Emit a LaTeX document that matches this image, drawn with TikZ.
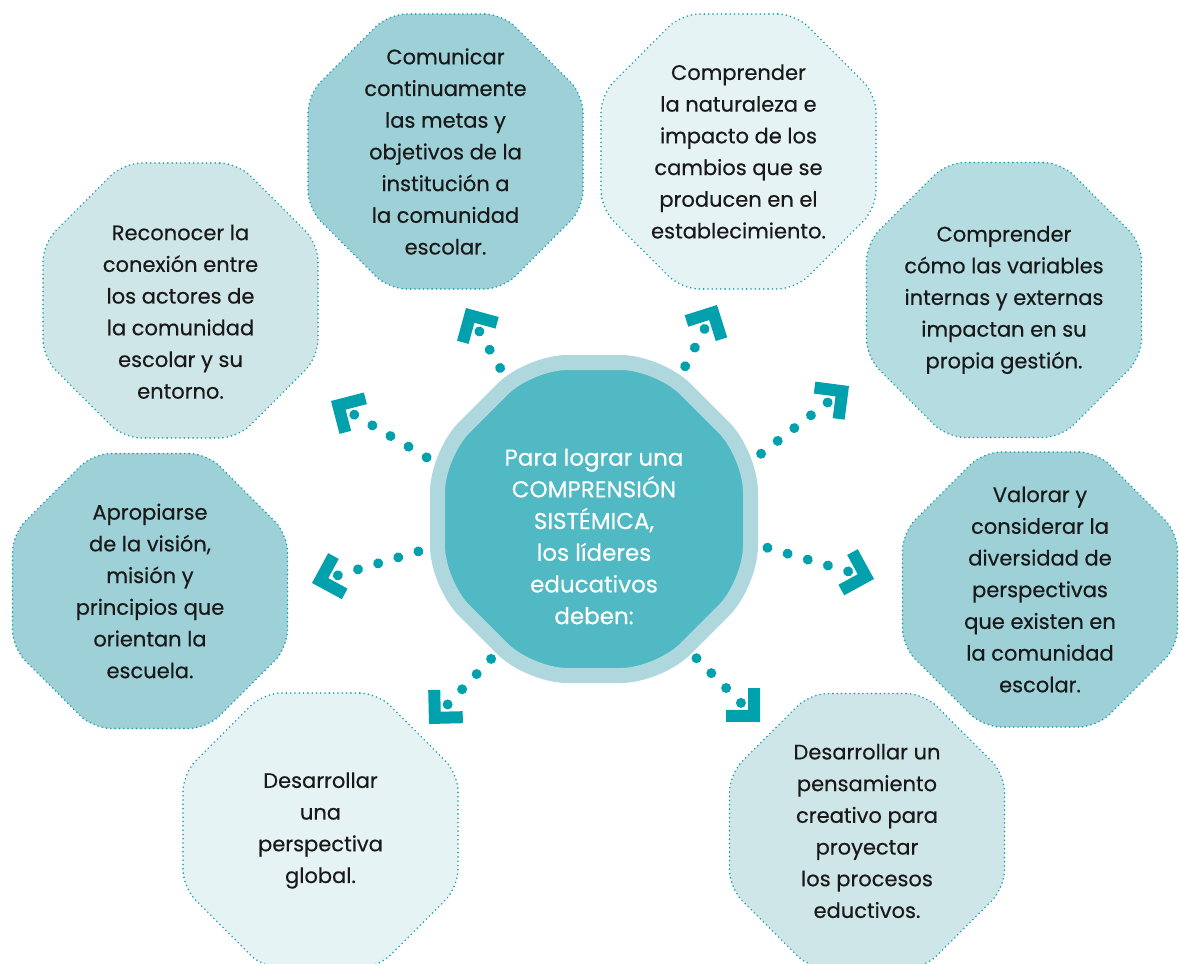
\documentclass[tikz,border=0pt]{standalone}
\usepackage{fontspec}
\setmainfont{Poppins}
\newfontfamily\boxfont{Poppins}[FakeBold=0.4]
\usepackage{xcolor}
\usepackage{tikz}
\usetikzlibrary{shapes.geometric,decorations.markings}
\definecolor{DotTeal}{HTML}{00A1AD}
\definecolor{EdgeTeal}{HTML}{1DA0AE}
\definecolor{HubFill}{HTML}{50B9C3}
\definecolor{HubRing}{HTML}{AED8DE}
\definecolor{FillA}{HTML}{9DD0D7}
\definecolor{FillB}{HTML}{B5DCE0}
\definecolor{FillC}{HTML}{CFE6E9}
\definecolor{FillD}{HTML}{E6F3F4}
\tikzset{
    octbox/.style={regular polygon, regular polygon sides=8, minimum size=297.7pt, inner sep=-30pt,
        draw=EdgeTeal, line width=1.8pt, dash pattern=on 0pt off 4.3pt, line cap=round,
        rounded corners=18pt, align=center, text=black!90,
        font=\boxfont\fontsize{21}{31.7}\selectfont},
    hub/.style={regular polygon, regular polygon sides=8, minimum size=338.8pt, inner sep=-20pt,
        fill=HubFill, draw=HubRing, line width=15pt, rounded corners=38pt,
        align=center, text=white, font=\boxfont\fontsize{23}{31.7}\selectfont}
}

\begin{document}
\begin{tikzpicture}[
                x=1pt, y=-1pt,
                link/.style={
                    decoration={markings,
                        mark=at position 0 with {\fill[DotTeal] (0pt,0pt) -- (24pt,24pt) -- (32.5pt,15.5pt)
                            -- (17pt,0pt) -- (32.5pt,-15.5pt) -- (24pt,-24pt) -- cycle;},
                        mark=between positions 27pt and 1 step 21pt with {\fill[DotTeal] (0pt,0pt) circle (5pt);}
                    },
                    postaction={decorate}
                }
            ]
                \useasboundingbox (0,0) rectangle (1179,964);
                \clip (0,0) rectangle (1179,964);

                % outer boxes
                \node[octbox, fill=FillA] (goals) at (445.5,151.5)
                    {Comunicar\\continuamente\\las metas y\\objetivos de la\\institución a\\la comunidad\\escolar.};
                \node[octbox, fill=FillD] (change) at (738.5,151.5)
                    {Comprender\\la naturaleza e\\impacto de los\\cambios que se\\producen en el\\establecimiento.};
                \node[octbox, fill=FillC] (actors) at (180.5,300.5)
                    {\rule{0pt}{38pt}Reconocer la\\conexión entre\\los actores de\\la comunidad\\escolar y su\\entorno.};
                \node[octbox, fill=FillB] (vars) at (1004,300)
                    {Comprender\\cómo las variables\\internas y externas\\impactan en su\\propia gestión.};
                \node[octbox, fill=FillA] (vision) at (150,591)
                    {Apropiarse\\de la visión,\\misión y\\principios que\\orientan la\\escuela.};
                \node[octbox, fill=FillA] (views) at (1040,589.5)
                    {Valorar y\\considerar la\\diversidad de\\perspectivas\\que existen en\\la comunidad\\escolar.};
                \node[octbox, fill=FillD] (global) at (320.5,830.5)
                    {Desarrollar\\una\\perspectiva\\global.};
                \node[octbox, fill=FillC] (creative) at (867,831)
                    {Desarrollar un\\pensamiento\\creativo para\\proyectar\\los procesos\\eductivos.};

                % center
                \node[hub] (ctr) at (594,519)
                    {\rule{0pt}{52pt}Para lograr una\\COMPRENSIÓN\\SISTÉMICA,\\los líderes\\educativos\\deben:};

                % arrow tips
                \coordinate (t1) at (466,308);
                \coordinate (t2) at (717,305);
                \coordinate (t3) at (331,401);
                \coordinate (t4) at (849,386);
                \coordinate (t5) at (874,579);
                \coordinate (t6) at (312,583);
                \coordinate (t7) at (429,724);
                \coordinate (t8) at (760,722);

                \path[link] (t1) -- (ctr.122.5);
                \path[link] (t2) -- (ctr.59.6);
                \path[link] (t3) -- (ctr.160.6);
                \path[link] (t4) -- (ctr.21.7);
                \path[link] (t5) -- (ctr.-9.6);
                \path[link] (t6) -- (ctr.190.7);
                \path[link] (t7) -- (ctr.234.2);
                \path[link] (t8) -- (ctr.306.2);
            \end{tikzpicture}
\end{document}
